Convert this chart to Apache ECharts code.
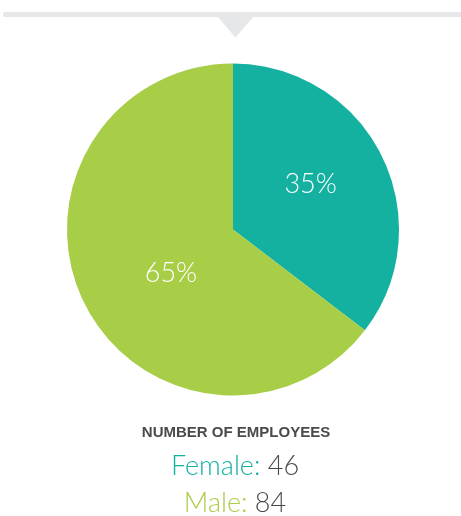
<!DOCTYPE html>
<html>
<head>
<meta charset="utf-8">
<script src="https://cdn.jsdelivr.net/npm/echarts@6/dist/echarts.min.js"></script>
<style>
  html, body { margin: 0; padding: 0; background: #ffffff; }
  #chart { width: 461px; height: 516px; }
</style>
</head>
<body>
<div id="chart"></div>
<script>
// Employee headcount by gender
const categories = ['Female', 'Male'];
const counts = [46, 84];
const colors = ['#14b1a1', '#a8cd47'];
const heading = 'NUMBER OF EMPLOYEES';

const chart = echarts.init(document.getElementById('chart'), null, { renderer: 'canvas' });

const lightFont = 'Lato, "Open Sans", sans-serif';

// One caption line per category, "Name: count"
const countLines = categories.map((name, i) => ({
  type: 'text',
  silent: true,
  style: {
    x: 235,
    y: 466 + i * 37,
    align: 'center',
    verticalAlign: 'middle',
    text: '{k|' + name + ':\u00a0}{v|' + counts[i] + '}',
    rich: {
      k: { fill: colors[i], fontSize: 27, fontWeight: 300, fontFamily: lightFont },
      v: { fill: '#4a4a4a', fontSize: 27, fontWeight: 300, fontFamily: lightFont }
    }
  }
}));

chart.setOption({
  animation: false,
  backgroundColor: '#ffffff',
  graphic: [
    {
      type: 'rect',
      shape: { x: 3, y: 12, width: 470, height: 5, r: 2.5 },
      style: { fill: '#e6e7e8' },
      silent: true
    },
    {
      type: 'polygon',
      shape: { points: [[217, 16], [254, 16], [235.5, 37.5]] },
      style: { fill: '#e6e7e8' },
      silent: true
    },
    {
      type: 'text',
      silent: true,
      style: {
        x: 236,
        y: 433,
        align: 'center',
        verticalAlign: 'middle',
        text: heading,
        fill: '#4a4a4a',
        fontSize: 15,
        fontWeight: 'bold',
        fontFamily: '"Liberation Sans", Arial, sans-serif'
      }
    }
  ].concat(countLines),
  series: [
    {
      type: 'pie',
      center: [233, 229.5],
      radius: 166,
      startAngle: 90,
      clockwise: true,
      percentPrecision: 0,
      silent: true,
      itemStyle: { borderWidth: 0 },
      label: {
        position: 'inside',
        formatter: '{d}%',
        color: '#ffffff',
        fontSize: 27,
        fontWeight: 300,
        fontFamily: lightFont
      },
      labelLine: { show: false },
      data: categories.map((name, i) => ({
        name: name,
        value: counts[i],
        itemStyle: { color: colors[i] },
        label: { offset: i === 0 ? [0.5, -7.5] : [15, 5.5] }
      }))
    }
  ]
});
</script>
</body>
</html>
